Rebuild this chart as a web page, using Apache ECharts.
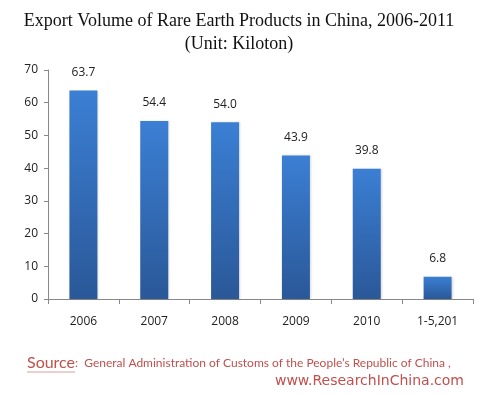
<!DOCTYPE html>
<html><head><meta charset="utf-8">
<script src="https://cdn.jsdelivr.net/npm/echarts@6/dist/echarts.min.js"></script>
<style>html,body{margin:0;padding:0;background:#fff}#c{width:478px;height:395px}</style>
</head><body><div id="c"></div>
<script>
const categories = ['2006','2007','2008','2009','2010','1-5,201'];
const values = [63.7, 54.4, 54.0, 43.9, 39.8, 6.8];
const yTicks = [0,10,20,30,40,50,60,70];

const chart = echarts.init(document.getElementById('c'));
chart.setOption({
  backgroundColor: '#fff',
  animation: false,
  title: {
    text: 'Export Volume of Rare Earth Products in China, 2006-2011\n(Unit: Kiloton)',
    left: 'center', top: 5,
    textStyle: { fontFamily: 'Liberation Serif', fontWeight: 'normal', fontSize: 18, color: '#111', lineHeight: 23 }
  },
  grid: { left: 48, right: 5, top: 70, bottom: 96 },
  xAxis: {
    type: 'category', data: categories,
    axisLine: { lineStyle: { color: '#888' } },
    axisTick: { show: true, length: 5, lineStyle: { color: '#888' } },
    axisLabel: { color: '#222', fontSize: 12, fontFamily: 'Open Sans', margin: 17 }
  },
  yAxis: {
    type: 'value', min: yTicks[0], max: yTicks[yTicks.length-1], interval: 10,
    splitLine: { show: false },
    axisLine: { show: true, lineStyle: { color: '#888' } },
    axisTick: { show: true, length: 4, lineStyle: { color: '#888' } },
    axisLabel: { color: '#222', fontSize: 12, fontFamily: 'Open Sans', margin: 10 }
  },
  series: [{
    type: 'bar', data: values, barWidth: 28,
    itemStyle: {
      color: new echarts.graphic.LinearGradient(0,0,0,1,[
        {offset:0,color:'#3b7fd4'},{offset:1,color:'#2a5898'}]),
      shadowColor: 'rgba(0,0,0,0.15)', shadowBlur: 2, shadowOffsetX: 1
    },
    label: { show: true, position: 'top', distance: 12, color: '#222', fontSize: 12, fontFamily: 'Open Sans',
      formatter: p => p.value.toFixed(1) }
  }],
  graphic: [
    { type: 'text', left: 27, top: 355, style: {
      rich: {
        s: { fontSize: 16, fontFamily: 'Lato', fill: '#c0504d' },
        t: { fontSize: 12, fontFamily: 'Lato', fill: '#c0504d' }
      },
      text: '{s|Source}{t|:  General Administration of Customs of the People’s Republic of China ,}'
    }},
    { type: 'line', shape: { x1: 27, y1: 372, x2: 75, y2: 372 }, style: { stroke: '#d9a09e', lineWidth: 1 } },
    { type: 'text', right: 14, top: 374, style: {
      text: 'www.ResearchInChina.com', fontSize: 14, fontFamily: 'DejaVu Sans', fill: '#c0504d' } }
  ]
});
</script></body></html>
